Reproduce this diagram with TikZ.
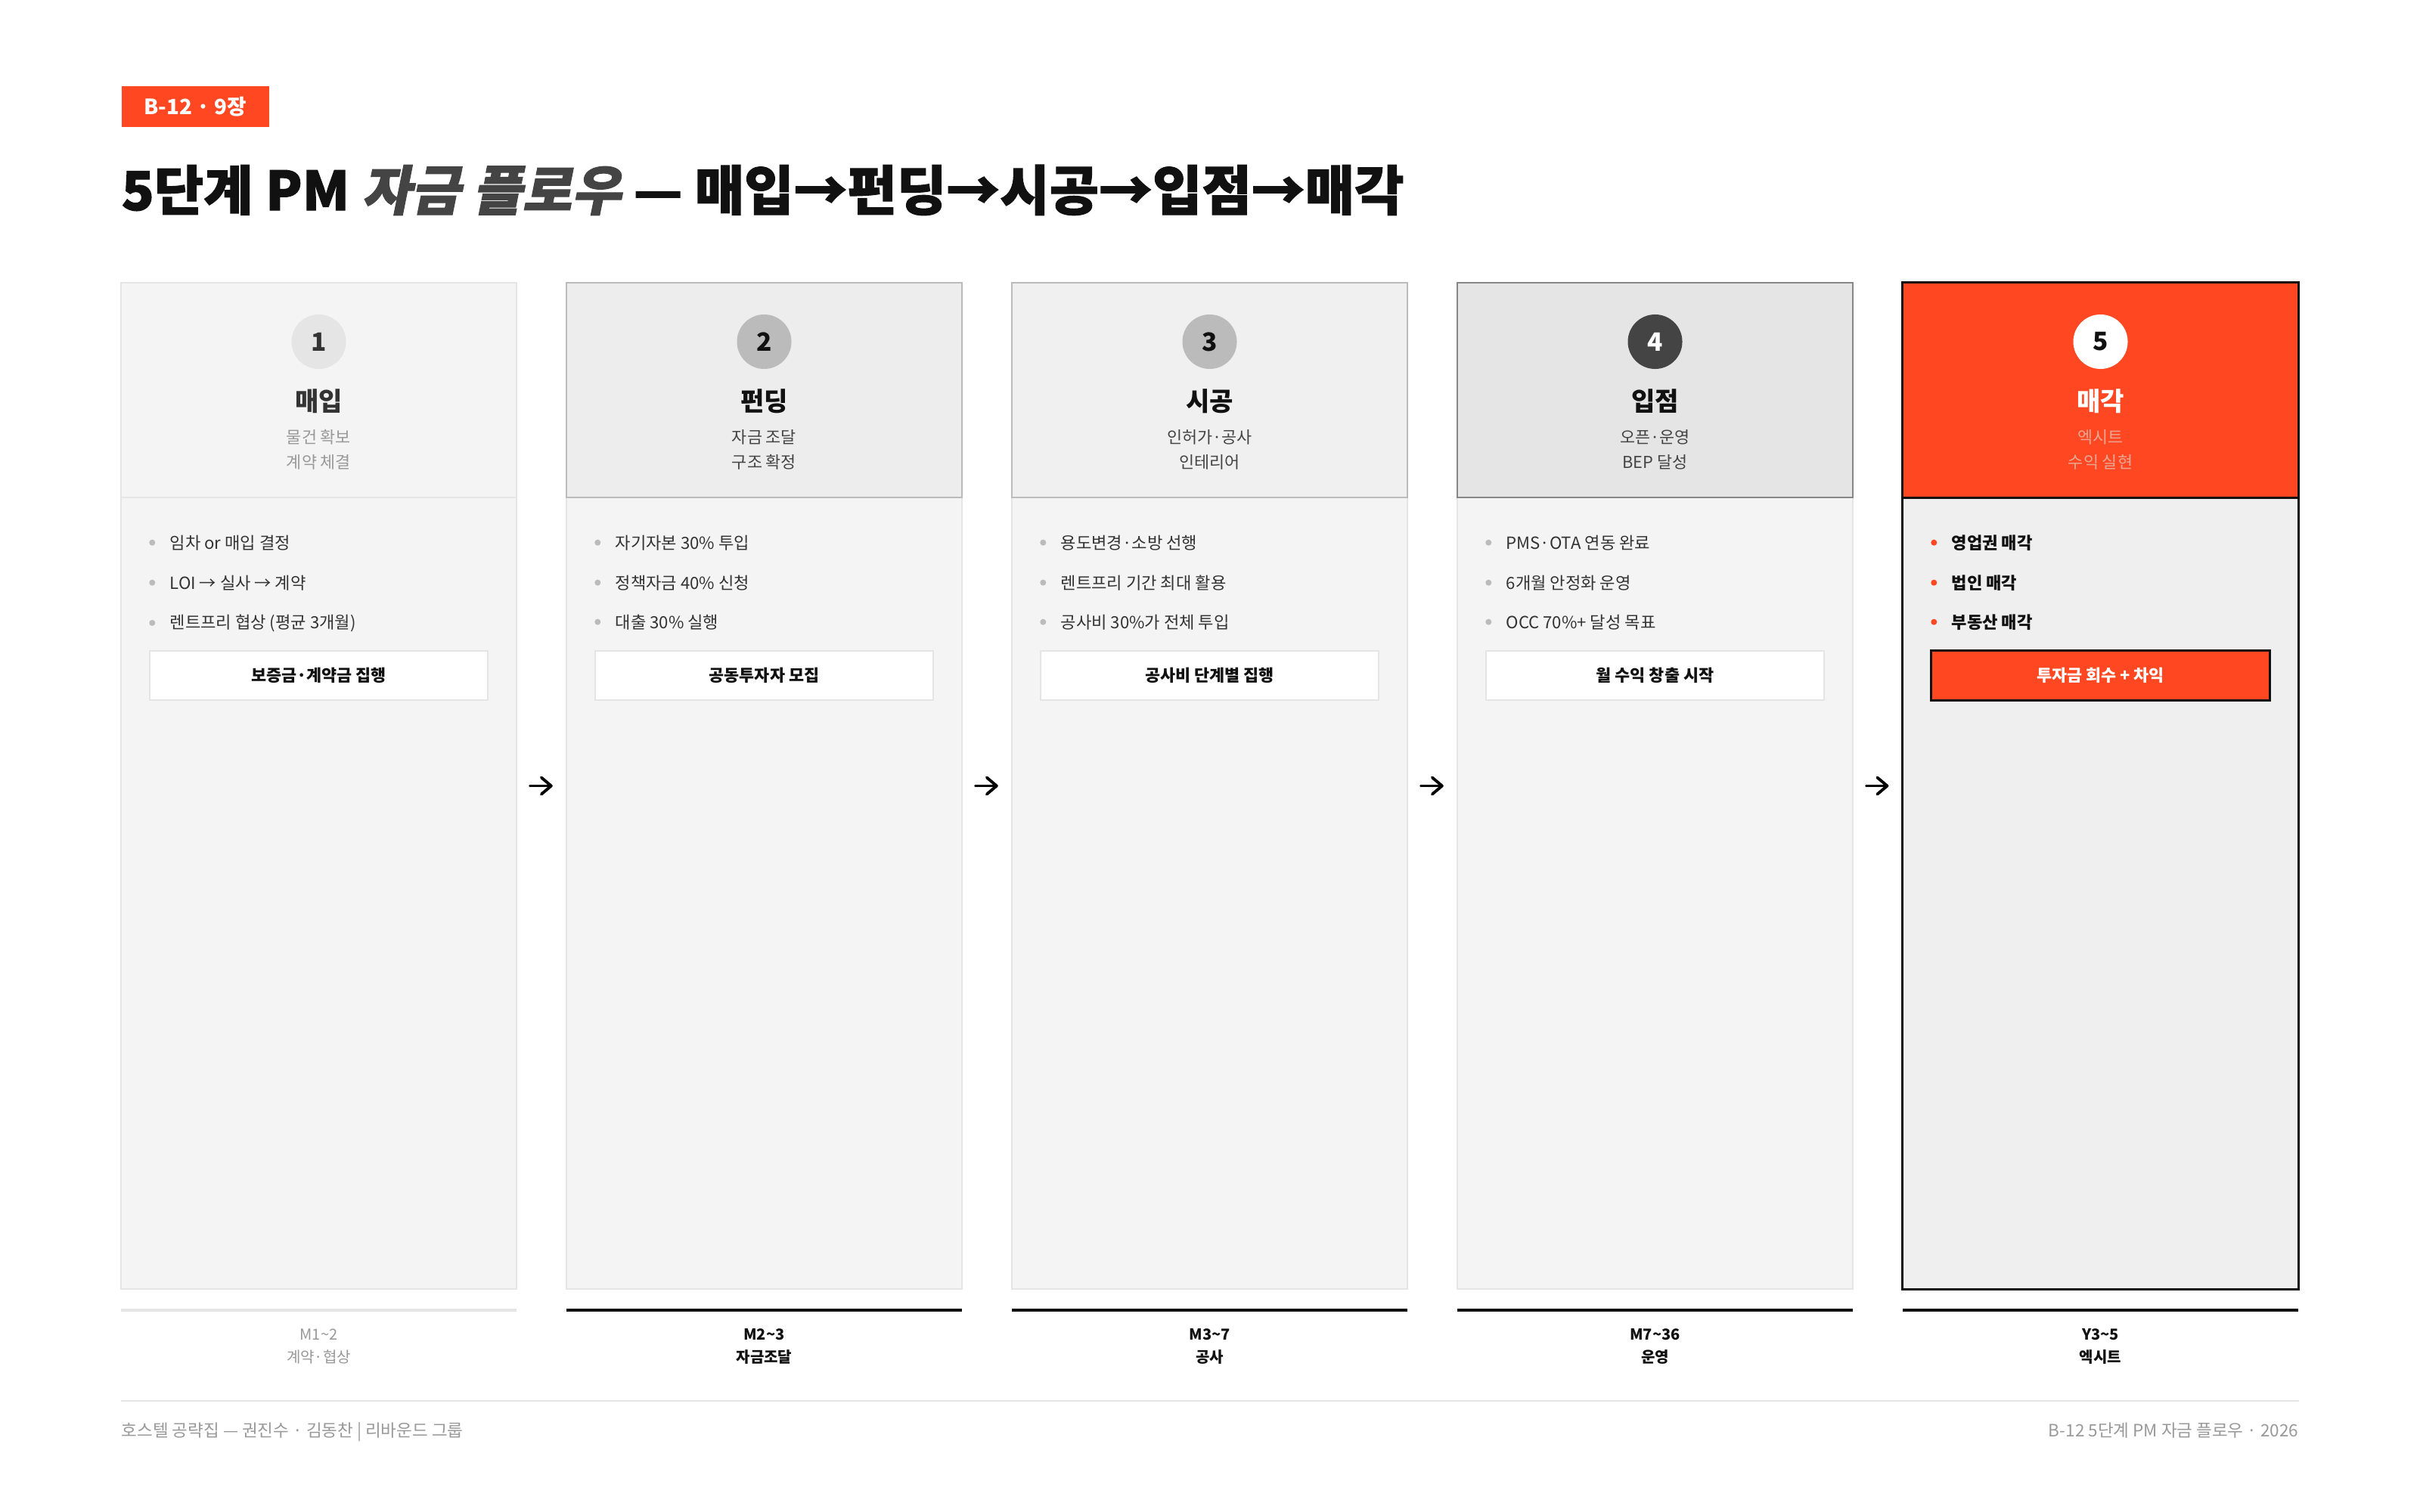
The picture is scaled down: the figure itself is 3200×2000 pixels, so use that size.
\documentclass[tikz,border=0pt]{standalone}
\usepackage{fontspec}
\setmainfont{Noto Sans CJK KR}
\newfontfamily\heavyfont{Noto Sans CJK KR}[FakeBold=1.5]
\newfontfamily\heavyslant{Noto Sans CJK KR}[FakeBold=1.5, FakeSlant=0.2]
\usetikzlibrary{positioning, arrows.meta}

\definecolor{accent}{HTML}{FF4822}
\definecolor{ink}{HTML}{111111}
\definecolor{paper}{HTML}{F4F4F4}
\definecolor{rule}{HTML}{E5E5E5}
\definecolor{mute}{HTML}{999999}
\definecolor{soft}{HTML}{444444}
\definecolor{text3}{HTML}{333333}
\definecolor{pale}{HTML}{BBBBBB}
\definecolor{blush}{HTML}{E8A794}

\begin{document}
\begin{tikzpicture}[x=0.01cm, y=-0.01cm,
    card/.style={draw=rule, fill=paper, line width=0.6pt, minimum width=5.23cm, minimum height=13.31cm, inner sep=0},
    head/.style={line width=0.6pt, minimum width=5.23cm, minimum height=2.84cm, inner sep=0},
    num/.style={circle, minimum size=0.72cm, inner sep=0, font=\bfseries\fontsize{9.5}{10}\selectfont},
    stage/.style={anchor=base, inner sep=0, font=\bfseries\fontsize{9.7}{10}\selectfont},
    sub/.style={anchor=base, inner sep=0, font=\fontsize{6.2}{7}\selectfont},
    dot/.style={circle, minimum size=0.08cm, inner sep=0, label distance=0.18cm},
    item/.style={anchor=base west, inner sep=0, text=text3, font=\fontsize{6.3}{7}\selectfont, label={[dot, fill=pale]left:{}}},
    hotitem/.style={anchor=base west, inner sep=0, text=ink, font=\bfseries\fontsize{6.3}{7}\selectfont, label={[dot, fill=accent]left:{}}},
    btn/.style={draw=rule, fill=white, line width=0.6pt, minimum width=4.47cm, minimum height=0.65cm, inner sep=0, text=ink, font=\bfseries\fontsize{6.2}{7}\selectfont},
    tbar/.style={fill=ink, minimum width=5.23cm, minimum height=0.04cm, inner sep=0},
    tlabel/.style={anchor=base, inner sep=0, text=ink, font=\bfseries\fontsize{5.7}{6}\selectfont},
    foot/.style={inner sep=0, text=mute, font=\fontsize{6.4}{7}\selectfont},
    flow/.style={-{Straight Barb[length=0.13cm, width=0.22cm, round]}, line width=1.1pt, line cap=round, shorten <=0.17cm, shorten >=0.17cm}]

    % page
    \fill[white] (0,0) rectangle (3200,2000);
    \useasboundingbox (0,0) rectangle (3200,2000);

    % heading
    \node[fill=accent, text=white, anchor=north west, minimum width=1.95cm, minimum height=0.54cm, inner sep=0,
          font=\bfseries\fontsize{7.9}{8}\selectfont] (badge) at (160,113) {B-12 · 9장};
    \node[anchor=base west, inner sep=0, text=ink, font=\fontsize{20.2}{22}\selectfont] (title) at (160,278)
        {\heavyfont\bfseries 5단계 PM {\heavyslant\bfseries\color{soft}자금 플로우} — 매입→펀딩→시공→입점→매각};

    % cards
    \node[card] (c1) at (421.5,1039.5) {};
    \node[card] (c2) at (1010.5,1039.5) {};
    \node[card] (c3) at (1599.5,1039.5) {};
    \node[card] (c4) at (2188.5,1039.5) {};
    \node[card, fill=rule!60!white, draw=ink, line width=0.85pt] (c5) at (2777.5,1039.5) {};

    \node[head, fill=paper, draw=rule] (h1) at (421.5,516) {};
    \node[head, fill=black!7, draw=pale] (h2) at (1010.5,516) {};
    \node[head, fill=black!6, draw=pale] (h3) at (1599.5,516) {};
    \node[head, fill=rule, draw=black!47] (h4) at (2188.5,516) {};
    \node[head, fill=accent, draw=ink, line width=0.85pt] (h5) at (2777.5,516) {};

    % step 1
    \node[num, fill=rule, text=text3] (n1) at (421.5,452) {1};
    \node[stage, text=text3] (s1) at (421.5,543) {매입};
    \node[sub, text=mute] (a1) at (421.5,586) {물건 확보};
    \node[sub, text=mute] (b1) at (421.5,619) {계약 체결};
    \node[item] (i11) at (224,726) {임차 or 매입 결정};
    \node[item] (i12) at (224,779) {LOI → 실사 → 계약};
    \node[item] (i13) at (224,831) {렌트프리 협상 (평균 3개월)};
    \node[btn] (k1) at (421.5,893.5) {보증금·계약금 집행};

    % step 2
    \node[num, fill=pale, text=ink] (n2) at (1010.5,452) {2};
    \node[stage, text=ink] (s2) at (1010.5,543) {펀딩};
    \node[sub, text=soft] (a2) at (1010.5,586) {자금 조달};
    \node[sub, text=soft] (b2) at (1010.5,619) {구조 확정};
    \node[item] (i21) at (813,726) {자기자본 30\% 투입};
    \node[item] (i22) at (813,779) {정책자금 40\% 신청};
    \node[item] (i23) at (813,831) {대출 30\% 실행};
    \node[btn] (k2) at (1010.5,893.5) {공동투자자 모집};

    % step 3
    \node[num, fill=pale, text=ink] (n3) at (1599.5,452) {3};
    \node[stage, text=ink] (s3) at (1599.5,543) {시공};
    \node[sub, text=soft] (a3) at (1599.5,586) {인허가·공사};
    \node[sub, text=soft] (b3) at (1599.5,619) {인테리어};
    \node[item] (i31) at (1402,726) {용도변경·소방 선행};
    \node[item] (i32) at (1402,779) {렌트프리 기간 최대 활용};
    \node[item] (i33) at (1402,831) {공사비 30\%가 전체 투입};
    \node[btn] (k3) at (1599.5,893.5) {공사비 단계별 집행};

    % step 4
    \node[num, fill=soft, text=white] (n4) at (2188.5,452) {4};
    \node[stage, text=ink] (s4) at (2188.5,543) {입점};
    \node[sub, text=soft] (a4) at (2188.5,586) {오픈·운영};
    \node[sub, text=soft] (b4) at (2188.5,619) {BEP 달성};
    \node[item] (i41) at (1991,726) {PMS·OTA 연동 완료};
    \node[item] (i42) at (1991,779) {6개월 안정화 운영};
    \node[item] (i43) at (1991,831) {OCC 70\%+ 달성 목표};
    \node[btn] (k4) at (2188.5,893.5) {월 수익 창출 시작};

    % step 5
    \node[num, fill=white, text=ink] (n5) at (2777.5,452) {5};
    \node[stage, text=white] (s5) at (2777.5,543) {매각};
    \node[sub, text=blush] (a5) at (2777.5,586) {엑시트};
    \node[sub, text=blush] (b5) at (2777.5,619) {수익 실현};
    \node[hotitem] (i51) at (2580,726) {영업권 매각};
    \node[hotitem] (i52) at (2580,779) {법인 매각};
    \node[hotitem] (i53) at (2580,831) {부동산 매각};
    \node[btn, fill=accent, draw=ink, line width=0.85pt, text=white] (k5) at (2777.5,893.5) {투자금 회수 + 차익};

    % flow
    \draw[flow] (c1) -- (c2);
    \draw[flow] (c2) -- (c3);
    \draw[flow] (c3) -- (c4);
    \draw[flow] (c4) -- (c5);

    % timeline
    \node[tbar, fill=rule] (t1) at (421.5,1733) {};
    \node[tbar] (t2) at (1010.5,1733) {};
    \node[tbar] (t3) at (1599.5,1733) {};
    \node[tbar] (t4) at (2188.5,1733) {};
    \node[tbar] (t5) at (2777.5,1733) {};
    \node[tlabel, text=mute, font=\fontsize{5.7}{6}\selectfont] (m1) at (421.5,1772) {M1\textasciitilde 2};
    \node[tlabel, text=mute, font=\fontsize{5.7}{6}\selectfont] (p1) at (421.5,1802) {계약·협상};
    \node[tlabel] (m2) at (1010.5,1772) {M2\textasciitilde 3};
    \node[tlabel] (p2) at (1010.5,1802) {자금조달};
    \node[tlabel] (m3) at (1599.5,1772) {M3\textasciitilde 7};
    \node[tlabel] (p3) at (1599.5,1802) {공사};
    \node[tlabel] (m4) at (2188.5,1772) {M7\textasciitilde 36};
    \node[tlabel] (p4) at (2188.5,1802) {운영};
    \node[tlabel] (m5) at (2777.5,1772) {Y3\textasciitilde 5};
    \node[tlabel] (p5) at (2777.5,1802) {엑시트};

    % footer
    \draw[rule, line width=0.6pt] (160,1853) -- (3040,1853);
    \node[foot, anchor=base west] (fl) at (160,1900) {호스텔 공략집 — 권진수 · 김동찬 | 리바운드 그룹};
    \node[foot, anchor=base east] (fr) at (3040,1900) {B-12 5단계 PM 자금 플로우 · 2026};
\end{tikzpicture}
\end{document}
